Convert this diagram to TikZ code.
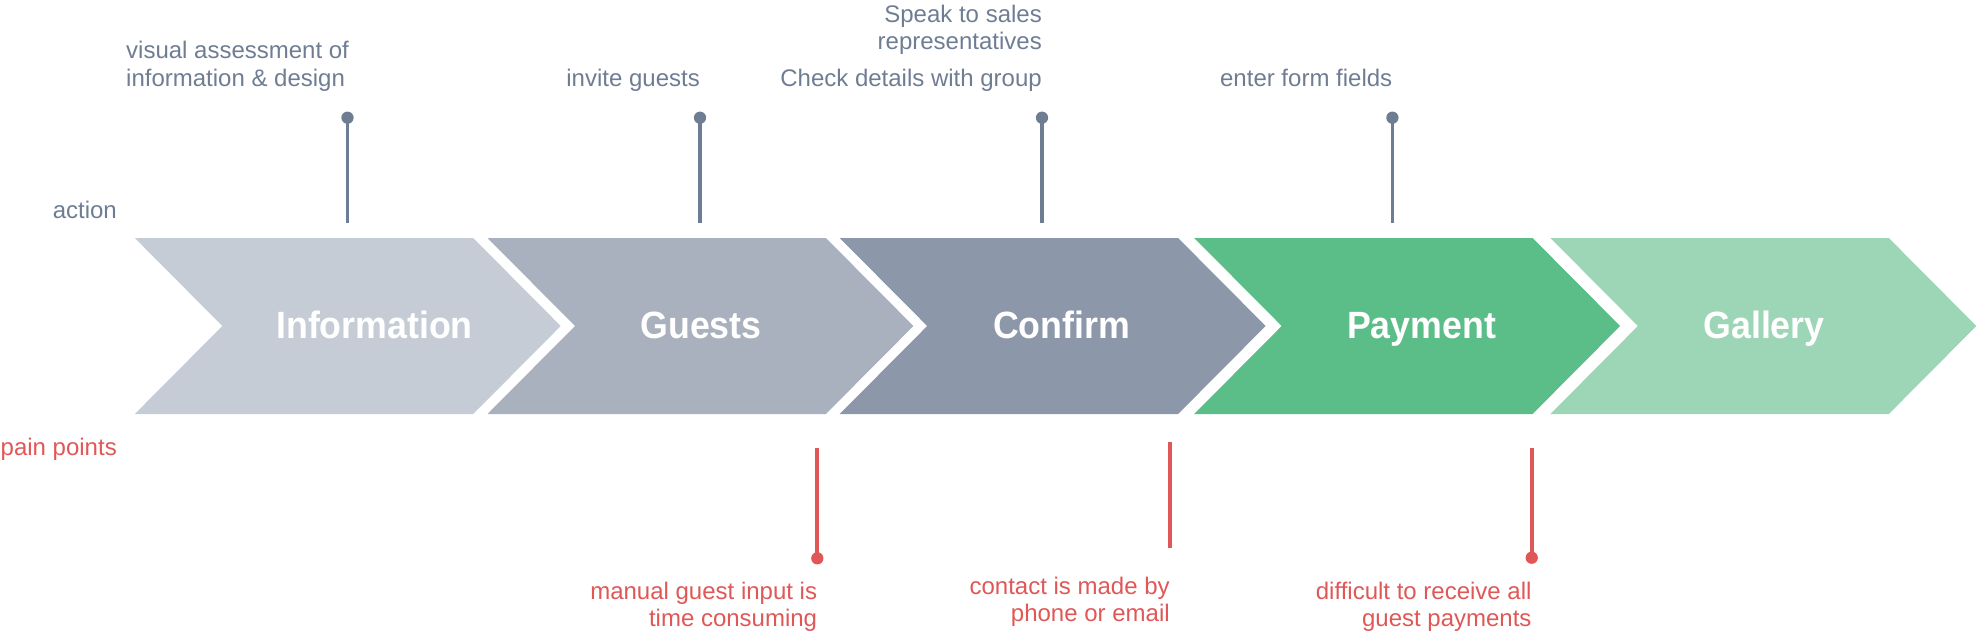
\documentclass[tikz,border=0pt]{standalone}
\usepackage{fontspec}
\setmainfont{Liberation Sans}
\newfontfamily\boldlab[FakeStretch=0.94]{Liberation Sans Bold}
\definecolor{cInfo}{HTML}{C5CCD6}
\definecolor{cGuests}{HTML}{A8B1BD}
\definecolor{cConfirm}{HTML}{8C97A9}
\definecolor{cPay}{HTML}{5BBE88}
\definecolor{cGal}{HTML}{9DD6B6}
\definecolor{cGray}{HTML}{6F7D93}
\definecolor{cRed}{HTML}{E05757}
\newcommand\mychev[2]{\fill[#2] (#1,238) -- ++(338.4,0) -- ++(87.5,88) -- ++(-87.5,88) -- ++(-338.4,0) -- ++(87.5,-88) -- cycle;}
\begin{document}
\begin{tikzpicture}[x=1pt,y=-1pt,
  steplabel/.style={text=white, font=\boldlab\fontsize{38}{40}\selectfont, anchor=base, inner sep=0pt},
  actext/.style={text=cGray, font=\fontsize{24}{27.5}\selectfont, inner sep=0pt},
  paintext/.style={text=cRed, font=\fontsize{24}{27}\selectfont, inner sep=0pt},
  actline/.style={draw=cGray, line width=3.7pt},
  painline/.style={draw=cRed, line width=3.7pt},
  actdot/.style={circle, fill=cGray, minimum size=12.3pt, inner sep=0pt},
  paindot/.style={circle, fill=cRed, minimum size=12.3pt, inner sep=0pt}]
\useasboundingbox (0,0) rectangle (1977,634);
% chevrons
\mychev{134.8}{cInfo}
\mychev{487.5}{cGuests}
\mychev{839.7}{cConfirm}
\mychev{1194.2}{cPay}
\mychev{1550.4}{cGal}
\node[steplabel] (sInfo) at (374.5,338.5) {Information};
\node[steplabel] (sGuests) at (701,338.5) {Guests};
\node[steplabel] (sConfirm) at (1061.6,338.5) {Confirm};
\node[steplabel] (sPay) at (1421.6,338.5) {Payment};
\node[steplabel] (sGal) at (1764,338.5) {Gallery};
% side labels
\node[actext, anchor=base east] (lAction) at (117,218.3) {action};
\node[paintext, anchor=base east] (lPain) at (117,455) {pain points};
% action pins
\node[actdot] (d1) at (347.5,117.7) {};
\coordinate (e1) at (347.5,223.3);
\draw[actline] (d1.center) -- (e1);
\node[actdot] (d2) at (700,117.7) {};
\coordinate (e2) at (700,223.3);
\draw[actline] (d2.center) -- (e2);
\node[actdot] (d3) at (1042,117.7) {};
\coordinate (e3) at (1042,223.3);
\draw[actline] (d3.center) -- (e3);
\node[actdot] (d4) at (1392.4,117.7) {};
\coordinate (e4) at (1392.4,223.3);
\draw[actline] (d4.center) -- (e4);
% action texts
\node[actext, anchor=base west, align=left] (a1) at (126,86) {visual assessment of\\information \& design};
\node[actext, anchor=base east, align=right] (a2) at (700,86) {invite guests};
\node[actext, anchor=base east, align=right] (a3a) at (1042,50) {Speak to sales\\representatives};
\node[actext, anchor=base east, align=right] (a3b) at (1042,86) {Check details with group};
\node[actext, anchor=base east, align=right] (a4) at (1392.4,86) {enter form fields};
% pain pins
\coordinate (f1) at (817.3,448);
\node[paindot] (g1) at (817.3,558.3) {};
\draw[painline] (f1) -- (g1.center);
\coordinate (f2) at (1169.9,442);
\coordinate (g2) at (1169.9,547.7);
\draw[painline] (f2) -- (g2);
\coordinate (f3) at (1531.7,448);
\node[paindot] (g3) at (1531.7,557.7) {};
\draw[painline] (f3) -- (g3.center);
% pain texts
\node[paintext, anchor=base east, align=right] (b1) at (817.3,626.5) {manual guest input is\\time consuming};
\node[paintext, anchor=base east, align=right] (b2) at (1169.9,621.7) {contact is made by\\phone or email};
\node[paintext, anchor=base east, align=right] (b3) at (1531.7,626) {difficult to receive all\\guest payments};
\end{tikzpicture}
\end{document}
